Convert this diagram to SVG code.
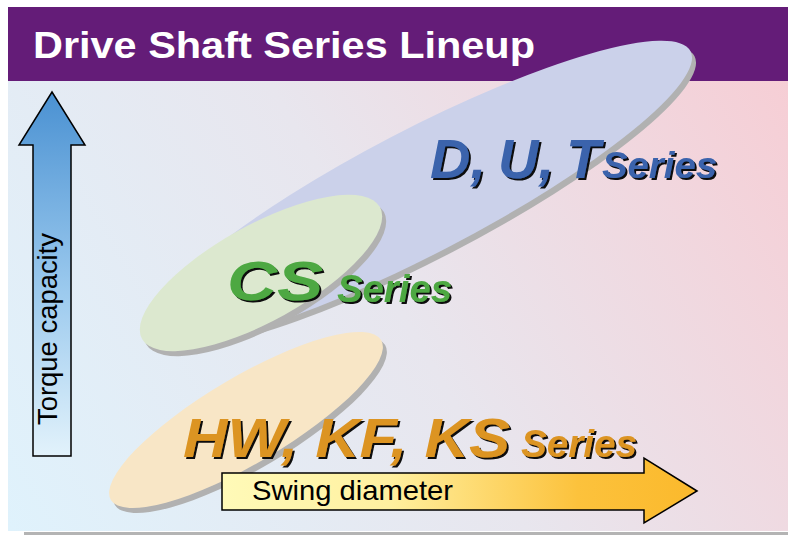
<svg xmlns="http://www.w3.org/2000/svg" width="788" height="535" viewBox="0 0 788 535">
<defs>
<linearGradient id="bg" x1="8" y1="530" x2="788" y2="81" gradientUnits="userSpaceOnUse">
<stop offset="0" stop-color="#dff2fc"/>
<stop offset="0.5" stop-color="#e8e6ee"/>
<stop offset="1" stop-color="#f6ced5"/>
</linearGradient>
<linearGradient id="upg" x1="0" y1="92" x2="0" y2="456" gradientUnits="userSpaceOnUse">
<stop offset="0" stop-color="#4a91d2"/>
<stop offset="0.55" stop-color="#9ccaee"/>
<stop offset="1" stop-color="#e2f2fb"/>
</linearGradient>
<linearGradient id="rtg" x1="222" y1="0" x2="697" y2="0" gradientUnits="userSpaceOnUse">
<stop offset="0" stop-color="#fffab8"/>
<stop offset="0.35" stop-color="#fff0a0"/>
<stop offset="0.75" stop-color="#fcc23c"/>
<stop offset="1" stop-color="#fbb92c"/>
</linearGradient>
<filter id="ds" x="-10%" y="-20%" width="120%" height="150%">
<feDropShadow dx="2" dy="2" stdDeviation="0.3" flood-color="#111111" flood-opacity="1"/>
</filter>
<style>
.shadow{fill:#b1b1b1}
.arrow{stroke:#000;stroke-width:1.5;stroke-linejoin:miter}
.big{font-family:"Liberation Sans",Arial,sans-serif;font-weight:bold;font-style:italic;filter:url(#ds)}
.axis{font-family:"Liberation Sans",Arial,sans-serif;fill:#000}
</style>
</defs>
<g id="background">
<rect x="24" y="532" width="764" height="3" fill="#b4b4b4"/>
<rect x="8" y="7" width="780" height="524" fill="url(#bg)"/>
<rect x="8" y="7" width="780" height="74" fill="#641c78"/>
<text x="33" y="58" font-family="Liberation Sans,Arial,sans-serif" font-weight="bold" font-size="36" fill="#ffffff" textLength="502" lengthAdjust="spacingAndGlyphs">Drive Shaft Series Lineup</text>
</g>
<g id="dut">
<ellipse class="shadow" cx="0" cy="0" rx="305" ry="62" transform="translate(424,197) rotate(-27.5)"/>
<ellipse cx="0" cy="0" rx="305" ry="62" fill="#cbd1ea" transform="translate(420,192) rotate(-27.5)"/>
</g>
<g id="cs">
<ellipse class="shadow" cx="0" cy="0" rx="136" ry="48" transform="translate(265,278) rotate(-29)"/>
<ellipse cx="0" cy="0" rx="136" ry="48" fill="#dce8cf" transform="translate(261,273) rotate(-29)"/>
</g>
<g id="hw">
<ellipse class="shadow" cx="0" cy="0" rx="157" ry="43" transform="translate(250,425) rotate(-30.6)"/>
<ellipse cx="0" cy="0" rx="157" ry="43" fill="#f8e6c6" transform="translate(246,420) rotate(-30.6)"/>
</g>
<g id="dut-label">
<text class="big" x="430" y="178" font-size="56" fill="#3a63ac">D,<tspan dx="12">U,</tspan><tspan dx="12">T</tspan></text>
<text class="big" x="602" y="178" font-size="36" fill="#3a63ac" textLength="115" lengthAdjust="spacingAndGlyphs">Series</text>
</g>
<g id="cs-label">
<text class="big" x="227" y="300" font-size="56" fill="#4ea843" textLength="96" lengthAdjust="spacingAndGlyphs">CS</text>
<text class="big" x="337" y="302" font-size="38" fill="#4ea843" textLength="115" lengthAdjust="spacingAndGlyphs">Series</text>
</g>
<g id="hw-label">
<text class="big" x="183" y="457" font-size="56" fill="#dc9422" textLength="327" lengthAdjust="spacingAndGlyphs">HW, KF, KS</text>
<text class="big" x="521" y="457" font-size="38" fill="#dc9422" textLength="116" lengthAdjust="spacingAndGlyphs">Series</text>
</g>
<g id="connectors">
<g id="torque-axis">
<path class="arrow" d="M52,92 L85,145 L71,145 L71,456 L33,456 L33,145 L19,145 Z" fill="url(#upg)"/>
<text class="axis" font-size="27" transform="translate(57,425) rotate(-90)" textLength="192" lengthAdjust="spacingAndGlyphs">Torque capacity</text>
</g>
<g id="swing-axis">
<path class="arrow" d="M697,491 L644,458 L644,473 L222,473 L222,510 L644,510 L644,523 Z" fill="url(#rtg)"/>
<text class="axis" x="252" y="500" font-size="28" textLength="201" lengthAdjust="spacingAndGlyphs">Swing diameter</text>
</g>
</g>
</svg>
